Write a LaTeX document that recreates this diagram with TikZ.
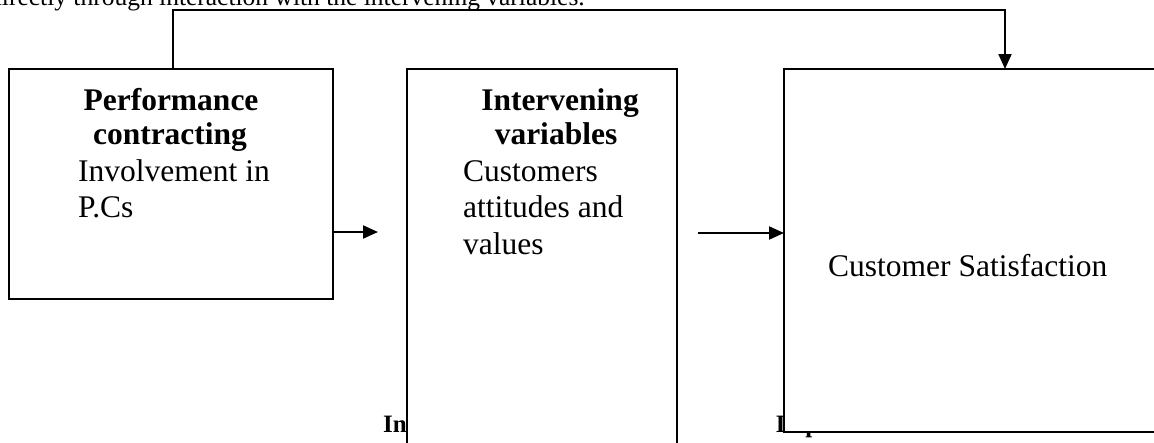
\documentclass[tikz,border=0pt]{standalone}
\usepackage{fontspec}
\setmainfont{Liberation Serif}
\usetikzlibrary{arrows.meta}
\begin{document}
\begin{tikzpicture}[x=1pt,y=-1pt,
  box/.style={draw,line width=2pt,fill=white,inner sep=0pt,outer sep=0pt,rectangle,anchor=north west},
  conn/.style={line width=2pt,-{Triangle[length=15pt,width=13pt]}},
  head/.style={font=\fontsize{31.5}{32}\selectfont\bfseries,inner sep=0pt,anchor=base},
  body/.style={font=\fontsize{31.5}{32}\selectfont,inner sep=0pt,anchor=base west},
  lab/.style={font=\fontsize{25}{25}\selectfont\bfseries,inner sep=0pt,anchor=base west},
  toptext/.style={font=\fontsize{25.5}{25.5}\selectfont,inner sep=0pt,anchor=base west}]
\useasboundingbox (0,0) rectangle (1154,442);
\clip (0,0) rectangle (1154,442);
\fill[white] (0,0) rectangle (1154,442);
% partly cut text
\node[toptext] (top) at (-11,5) {directly through interaction with the intervening variables.};
\node[lab] (lab1) at (383,432) {Independent variables};
\node[lab] (lab2) at (776,432) {Dependent variables};
% boxes
\node[box,minimum width=324pt,minimum height=230pt] (b1) at (9,69) {};
\node[box,minimum width=270pt,minimum height=411pt] (b2) at (407,69) {};
\node[box,minimum width=406pt,minimum height=363pt] (b3) at (784,69) {};
% texts
\node[head] (h1a) at (171,110) {Performance};
\node[head] (h1b) at (170,144) {contracting};
\node[body] (t1a) at (78,181) {Involvement in};
\node[body] (t1b) at (78,217) {P.Cs};
\node[head] (h2a) at (560,110) {Intervening};
\node[head] (h2b) at (556,144) {variables};
\node[body] (t2a) at (463,181) {Customers};
\node[body] (t2b) at (463,217) {attitudes and};
\node[body] (t2c) at (463,254) {values};
\node[body] (t3) at (828,276) {Customer Satisfaction};
% connectors
\coordinate (a1) at (378,232);
\draw[conn] (b1.east |- a1) -- (a1);
\coordinate (a2) at (698,233);
\draw[conn] (a2) -- (b3.west |- a2);
\coordinate (f1) at (173,10);
\coordinate (f2) at (1005,10);
\draw[conn] (b1.north -| f1) -- (f1) -- (f2) -- (b3.north -| f2);
\end{tikzpicture}
\end{document}
